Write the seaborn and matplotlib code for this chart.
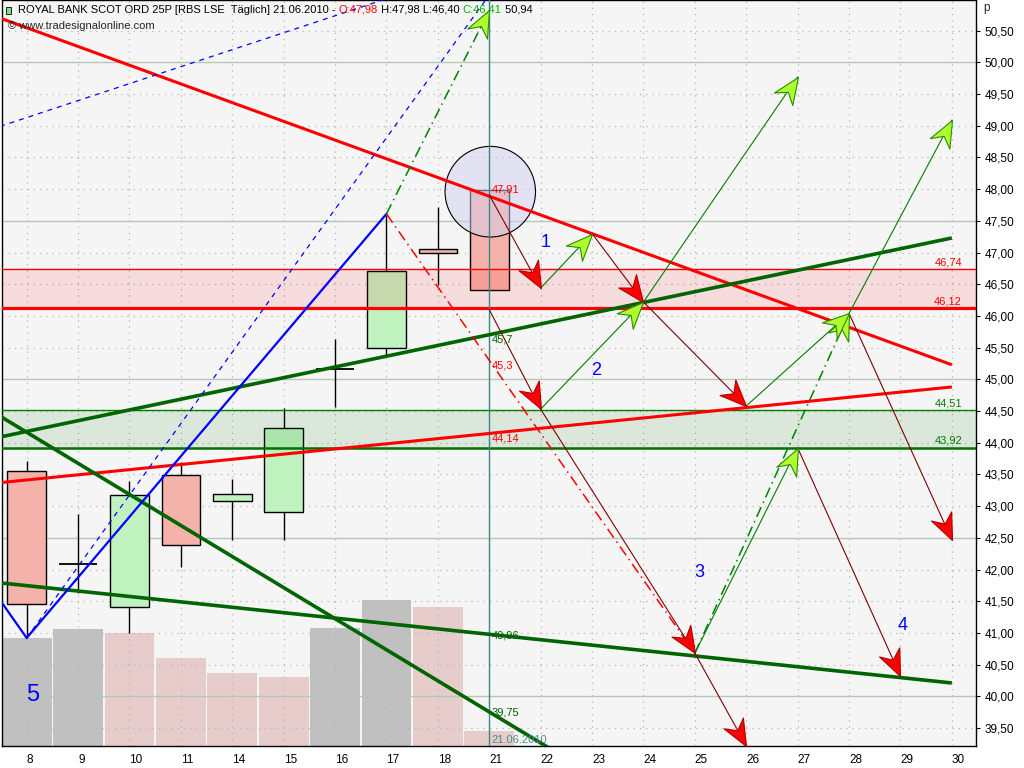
import numpy as np
import pandas as pd
import matplotlib
matplotlib.use("Agg")
import matplotlib.pyplot as plt
import seaborn as sns
from matplotlib.patches import Ellipse, Rectangle
from matplotlib.markers import MarkerStyle
from matplotlib.path import Path
from matplotlib.transforms import Affine2D

# Daten
days = ['8', '9', '10', '11', '14', '15', '16', '17', '18', '21',
        '22', '23', '24', '25', '26', '27', '28', '29', '30']
opens = [43.55, 42.08, 41.41, 43.49, 43.08, 42.90, 45.16, 45.49, 47.05, 47.98]
highs = [43.71, 42.88, 43.40, 43.69, 43.42, 44.55, 45.63, 47.59, 47.72, 47.98]
lows = [40.92, 41.63, 41.00, 42.04, 42.46, 42.46, 44.57, 45.37, 46.49, 46.40]
closes = [41.46, 42.08, 43.17, 42.38, 43.19, 44.23, 45.16, 46.71, 47.00, 46.41]
volume = [14.5, 15.7, 15.1, 11.8, 9.8, 9.2, 15.8, 19.6, 18.6, 2.0]
vol_kind = ['grau', 'grau', 'rot', 'rot', 'rot', 'rot', 'grau', 'grau', 'rot', 'rot']

zone_res = (46.12, 46.74)
zone_sup = (43.92, 44.51)

# Trendlinien: (x0, y0, x1, y1)
red_down = (-0.52, 50.70, 18, 45.23)
red_up = (-0.52, 43.37, 18, 44.88)
green_up = (-0.52, 44.09, 18, 47.23)
green_down = (-0.52, 41.79, 18, 40.21)
green_steep = (-0.52, 44.42, 10.6, 38.97)
blue_x = [-0.52, 0, 7]
blue_y = [41.52, 40.92, 47.61]
blue_dash1 = (-0.52, 48.99, 7.1, 51.03)
blue_dash2 = (0, 40.92, 9.2, 51.29)

# Pfeile: Start -> Ziel
red_arrows = [((9, 47.91), (10, 46.44)), ((11, 47.30), (12, 46.22)),
              ((9, 46.10), (10, 44.53)), ((10, 44.53), (13, 40.68)),
              ((12, 46.22), (14, 44.58)), ((13, 40.68), (14, 39.22)),
              ((15, 43.92), (17, 40.32)), ((16, 46.04), (18, 42.47))]
green_arrows = [((10, 46.44), (11, 47.30)), ((10, 44.53), (12, 46.22)),
                ((12, 46.22), (15, 49.77)), ((13, 40.68), (15, 43.92)),
                ((14, 44.58), (16, 46.04)), ((16, 46.04), (18, 49.09))]
red_dashdot = [((7, 47.61), (13, 40.68))]
green_dashdot = [((7, 47.61), (9, 50.82)), ((13, 40.68), (16, 46.04))]

line_labels = [('47,91', 47.91, 'red', 'bottom'), ('45,7', 45.70, '#006400', 'top'),
               ('45,3', 45.30, 'red', 'top'), ('44,14', 44.14, 'red', 'top'),
               ('40,96', 40.96, '#006400', 'center'), ('39,75', 39.75, '#006400', 'center')]
wave_nums = ['1', '2', '3', '4', '5']
wave_x = [10.1, 11.07, 13.08, 17.05, 0.11]
wave_y = [47.16, 45.14, 41.96, 41.11, 40.02]

sns.set_style("white")
plt.rcParams['font.family'] = ['Liberation Sans', 'DejaVu Sans']

fig = plt.figure(figsize=(10.24, 7.68), dpi=100)
rect = [2 / 1024, 22 / 768, 974 / 1024, 746 / 768]
xlim = (-0.48, 18.47)
ylim = (39.216, 50.984)

# Volumen im Hintergrund
axv = fig.add_axes(rect)
vol_df = pd.DataFrame({'idx': range(len(volume)), 'vol': volume, 'kind': vol_kind})
sns.barplot(data=vol_df, x='idx', y='vol', hue='kind',
            palette={'grau': '#c0c0c0', 'rot': '#ebc8c8'}, dodge=False,
            native_scale=True, width=0.97, errorbar=None, legend=False,
            edgecolor='none', ax=axv)
axv.set_xlim(xlim)
axv.set_ylim(0, 100)
axv.set_facecolor('#f5f5f5')
axv.set_xticks([])
axv.set_yticks([])
axv.set_xlabel('')
axv.set_ylabel('')
for s in axv.spines.values():
    s.set_visible(False)

ax = fig.add_axes(rect)
ax.patch.set_visible(False)
ax.set_xlim(xlim)
ax.set_ylim(ylim)

# Gitter
for lev in np.arange(39.5, 51.0, 0.5):
    if abs(lev / 2.5 - round(lev / 2.5)) < 1e-6:
        ax.axhline(lev, color='#b4c8b4', lw=1, zorder=0.5)
    else:
        ax.axhline(lev, color='#b0b8b0', lw=0.9, ls=(0, (1, 4)), zorder=0.5)
for i in range(len(days)):
    ax.axvline(i, color='#b0b8b0', lw=0.9, ls=(0, (1, 4)), zorder=0.5)

# Kerzen
xs = np.arange(len(opens))
ax.vlines(xs, lows, highs, color='black', lw=1, zorder=2.9)
for i in xs:
    o, c = opens[i], closes[i]
    if o == c:
        ax.hlines(o, i - 0.375, i + 0.375, color='black', lw=1.3, zorder=3)
    else:
        col = '#c0f2c0' if c > o else '#f5b2aa'
        ax.bar(i, abs(c - o), bottom=min(o, c), width=0.75, color=col,
               edgecolor='black', lw=1, zorder=3)

# Zonen
ax.axhspan(*zone_res, color='red', alpha=0.1, lw=0, zorder=3.5)
ax.axhspan(*zone_sup, color='#007300', alpha=0.1, lw=0, zorder=3.5)
ax.axhline(zone_res[1], color='red', lw=1, zorder=4)
ax.axhline(zone_res[0], color='red', lw=2.3, zorder=4)
ax.axhline(zone_sup[1], color='#008000', lw=1, zorder=4)
ax.axhline(zone_sup[0], color='#007000', lw=1.8, zorder=4)

# Kreis
ax.add_patch(Ellipse((9.02, 47.96), 1.76, 1.43, facecolor='#d0d0f0', alpha=0.5,
                     edgecolor='none', zorder=3.6))
ax.add_patch(Ellipse((9.02, 47.96), 1.76, 1.43, facecolor='none',
                     edgecolor='black', lw=0.8, zorder=3.7))

ax.axvline(9, color='#3c8888', lw=1, zorder=4.5)

# Trendlinien
def seg(s, **kw):
    ax.plot([s[0], s[2]], [s[1], s[3]], solid_capstyle='butt', **kw)

seg(red_down, color='#ff0000', lw=2.2, zorder=5)
seg(red_up, color='#ff0000', lw=2.2, zorder=5)
seg(green_up, color='#006400', lw=2.6, zorder=5)
seg(green_down, color='#006400', lw=2.6, zorder=5)
seg(green_steep, color='#006400', lw=2.6, zorder=5)
ax.plot(blue_x, blue_y, color='#0000ff', lw=1.6, zorder=5)
seg(blue_dash1, color='#0000ff', lw=0.9, ls=(0, (4, 4)), zorder=5)
seg(blue_dash2, color='#0000ff', lw=0.9, ls=(0, (4, 4)), zorder=5)

# Pfeilspitzen
ax_w = rect[2] * 1024
ax_h = rect[3] * 768
px_x = ax_w / (xlim[1] - xlim[0])
px_y = ax_h / (ylim[1] - ylim[0])
head_path = Path([(0, 0), (-1, 0.42), (-0.68, 0.0), (-1, -0.42), (0, 0)],
                 [Path.MOVETO, Path.LINETO, Path.LINETO, Path.LINETO, Path.CLOSEPOLY])


def head(tail, tip, face, edge):
    ang = np.degrees(np.arctan2((tip[1] - tail[1]) * px_y, (tip[0] - tail[0]) * px_x))
    m = MarkerStyle(head_path, transform=Affine2D().rotate_deg(ang))
    ax.plot([tip[0]], [tip[1]], marker=m, ms=38, mfc=face, mec=edge, mew=0.8,
            ls='none', zorder=6)


for t, h in red_dashdot:
    ax.plot([t[0], h[0]], [t[1], h[1]], color='#ff0000', lw=1.1,
            ls=(0, (7, 3, 1, 3)), zorder=5.2)
for t, h in green_dashdot:
    ax.plot([t[0], h[0]], [t[1], h[1]], color='#008000', lw=1.1,
            ls=(0, (7, 3, 1, 3)), zorder=5.2)
    head(t, h, '#adff2f', '#2e8b00')
for t, h in red_arrows:
    ax.plot([t[0], h[0]], [t[1], h[1]], color='#800000', lw=0.8, zorder=5.3)
    head(t, h, '#ff0000', '#b00000')
for t, h in green_arrows:
    ax.plot([t[0], h[0]], [t[1], h[1]], color='#008000', lw=0.8, zorder=5.3)
    head(t, h, '#adff2f', '#2e8b00')

# Beschriftungen
for txt, val, col, va in line_labels:
    ax.text(9.04, val, txt, color=col, fontsize=8, va=va, ha='left', zorder=7)
ax.text(9.04, 39.23, '21.06.2010', color='#4a8c8c', fontsize=8, va='bottom', zorder=7)
ax.text(18.2, zone_res[1] + 0.03, '46,74', color='red', fontsize=8, ha='right', va='bottom', zorder=7)
ax.text(18.2, zone_res[0] + 0.03, '46,12', color='red', fontsize=8, ha='right', va='bottom', zorder=7)
ax.text(18.2, zone_sup[1] + 0.03, '44,51', color='#008000', fontsize=8, ha='right', va='bottom', zorder=7)
ax.text(18.2, zone_sup[0] + 0.03, '43,92', color='#008000', fontsize=8, ha='right', va='bottom', zorder=7)
for n, wx, wy in zip(wave_nums, wave_x, wave_y):
    ax.text(wx, wy, n, color='#0000ff', fontsize=17 if n == '5' else 13,
            ha='center', va='center', zorder=7)

# Achsen
ax.yaxis.tick_right()
yt = np.arange(39.5, 50.51, 0.5)
ax.set_yticks(yt)
ax.set_yticklabels([f'{v:.2f}'.replace('.', ',') for v in yt], fontsize=8.5)
ax.set_xticks(range(len(days)))
ax.set_xticklabels(days, fontsize=8.5, ha='left')
ax.tick_params(axis='y', direction='out', length=3, width=0.8, pad=3, colors='black', left=False)
ax.tick_params(axis='x', direction='out', length=4, width=0.8, pad=2, colors='black')
for s in ax.spines.values():
    s.set_color('black')
    s.set_linewidth(1)
    s.set_visible(True)

# Kopfzeile (Teile aneinandergereiht)
ty = 1 - 10 / 768
fig.add_artist(Rectangle((6 / 1024, 1 - 14 / 768), 5 / 1024, 7 / 768,
                         transform=fig.transFigure, fc='#80e080', ec='black', lw=0.6))
fig.add_artist(plt.Line2D([8.5 / 1024, 8.5 / 1024], [1 - 17 / 768, 1 - 4 / 768],
                          transform=fig.transFigure, color='black', lw=0.6, zorder=0))
title_parts = [('ROYAL BANK SCOT ORD 25P [RBS LSE  Täglich] 21.06.2010 - ', 'black'),
               ('O:47,98', 'red'), (' H:47,98 L:46,40 ', 'black'),
               ('C:46,41', '#00b000'), (' 50,94', 'black')]
prev = fig.text(18 / 1024, ty, title_parts[0][0], color=title_parts[0][1],
                fontsize=8, va='center', ha='left', zorder=8)
for txt, col in title_parts[1:]:
    prev = ax.annotate(txt, xy=(1, 0), xycoords=prev, va='bottom', ha='left',
                       color=col, fontsize=8, annotation_clip=False, zorder=8)
fig.text(8 / 1024, 1 - 26 / 768, '© www.tradesignalonline.com', fontsize=8, va='center')
fig.text(983 / 1024, 1 - 8 / 768, 'p', fontsize=8.5, va='center')

fig.savefig('out.png', dpi=100)
